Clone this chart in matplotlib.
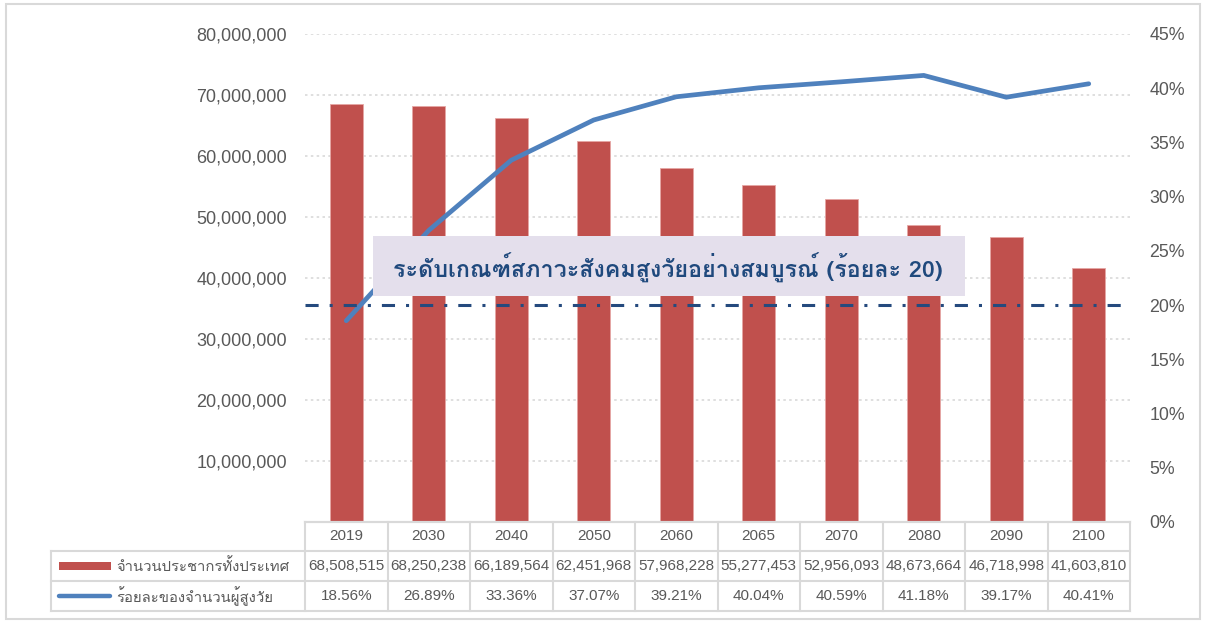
import matplotlib
matplotlib.use("Agg")
import matplotlib.pyplot as plt
from matplotlib import font_manager
from matplotlib.ft2font import FT2Font
from matplotlib.patches import Rectangle
from matplotlib.lines import Line2D
import matplotlib.transforms as mtransforms

# ---------------- data ----------------
years = ["2019", "2030", "2040", "2050", "2060", "2065", "2070", "2080", "2090", "2100"]
population = [68508515, 68250238, 66189564, 62451968, 57968228,
              55277453, 52956093, 48673664, 46718998, 41603810]
elderly_pct = [18.56, 26.89, 33.36, 37.07, 39.21, 40.04, 40.59, 41.18, 39.17, 40.41]
threshold_pct = 20
pop_label = "จำนวนประชากรทั้งประเทศ"
pct_label = "ร้อยละของจำนวนผู้สูงวัย"
threshold_label = "ระดับเกณฑ์สภาวะสังคมสูงวัยอย่างสมบูรณ์ (ร้อยละ 20)"
left_ticks = list(range(0, 80000001, 10000000))
right_ticks = list(range(0, 46, 5))

# ---------------- fonts ----------------
thai_family = None
for f in font_manager.fontManager.ttflist:
    try:
        if 0x0E01 in FT2Font(f.fname).get_charmap():
            thai_family = f.name
            break
    except Exception:
        pass

names = {f.name for f in font_manager.fontManager.ttflist}
if "Liberation Sans Narrow" in names:
    num_family = "Liberation Sans Narrow"
    tick_fs_l, tick_fs_r, tab_fs = 15.3, 15.0, 13.0
else:
    num_family = "Liberation Sans"
    tick_fs_l, tick_fs_r, tab_fs = 13.0, 12.8, 11.0
thai_fam_list = ([thai_family] if thai_family else []) + [num_family, "DejaVu Sans"]

W, H = 1206, 622
fig = plt.figure(figsize=(W / 100, H / 100), dpi=100)
fig.patch.set_facecolor("white")

def fx(px):
    return px / W

def fy(py):
    return 1 - py / H

# outer border
fig.patches.append(Rectangle((fx(6), fy(619)), fx(1200) - fx(6), fy(4) - fy(619),
                             transform=fig.transFigure, fill=False,
                             edgecolor="#D9D9D9", linewidth=1.5))

ax_l, ax_r, ax_t, ax_b = 305, 1130, 34, 522
ax = fig.add_axes([fx(ax_l), fy(ax_b), fx(ax_r) - fx(ax_l), fy(ax_t) - fy(ax_b)])
ax2 = ax.twinx()

x = list(range(len(years)))
ax.bar(x, population, width=0.4, color="#C0504D", edgecolor="#E6A6A4", linewidth=0.6, zorder=2)
ax.set_ylim(0, 80000000)
ax.set_xlim(-0.5, len(years) - 0.5)
ax.set_yticks(left_ticks)
ax.set_yticklabels(["" if v == 0 else f"{v:,}" for v in left_ticks])
ax.yaxis.grid(True, color="#D9D9D9", linestyle=(0, (1.5, 2)), linewidth=1.2, zorder=0)
ax.set_axisbelow(True)
ax.set_xticks([])
for s in ["top", "left", "right"]:
    ax.spines[s].set_visible(False)
ax.spines["bottom"].set_color("#D9D9D9")
ax.spines["bottom"].set_linewidth(1.5)
ax.tick_params(axis="y", length=0, pad=13, labelsize=tick_fs_l, labelcolor="#595959")
for t in ax.get_yticklabels():
    t.set_fontfamily(num_family)

ax2.plot(x, elderly_pct, color="#4F81BD", linewidth=3.4, solid_capstyle="round",
         solid_joinstyle="miter", zorder=5)
ax2.axhline(threshold_pct, color="#254A7E", linewidth=2.2,
            linestyle=(0, (4.3, 3.6, 1.0, 3.6)), zorder=6)
ax2.set_ylim(0, 45)
ax2.set_yticks(right_ticks)
ax2.set_yticklabels([f"{v}%" for v in right_ticks])
for s in ["top", "left", "right", "bottom"]:
    ax2.spines[s].set_visible(False)
ax2.tick_params(axis="y", length=0, pad=14, labelsize=tick_fs_r, labelcolor="#595959")
for t in ax2.get_yticklabels():
    t.set_fontfamily(num_family)

# annotation box
fig.patches.append(Rectangle((fx(373), fy(296)), fx(965) - fx(373), fy(236) - fy(296),
                             transform=fig.transFigure, facecolor="#E4DFEC",
                             edgecolor="none", zorder=10))
fig.text(fx(668), fy(268), threshold_label, ha="center", va="center",
         fontsize=16.8, fontweight="bold", color="#1F497D", family=thai_fam_list, zorder=11)

# ---------------- data table ----------------
grid_c = "#D9D9D9"
trans = mtransforms.blended_transform_factory(ax.transData, fig.transFigure)
rows_y = [522, 551, 581, 611]
lab_l = 51
fig.add_artist(Line2D([fx(ax_l), fx(ax_r)], [fy(rows_y[0])] * 2, color=grid_c, lw=1.5,
                      transform=fig.transFigure))
for yy in rows_y[1:]:
    fig.add_artist(Line2D([fx(lab_l), fx(ax_r)], [fy(yy)] * 2, color=grid_c, lw=1.5,
                          transform=fig.transFigure))
for i in range(len(years) + 1):
    fig.add_artist(Line2D([i - 0.5, i - 0.5], [fy(rows_y[0]), fy(rows_y[3])], color=grid_c,
                          lw=1.5, transform=trans))
fig.add_artist(Line2D([fx(lab_l)] * 2, [fy(rows_y[1]), fy(rows_y[3])], color=grid_c, lw=1.5,
                      transform=fig.transFigure))

row_c = [(rows_y[k] + rows_y[k + 1]) / 2 for k in range(3)]
for i, yr in enumerate(years):
    fig.text(i, fy(row_c[0]), yr, transform=trans, ha="center", va="center",
             fontsize=tab_fs, color="#595959", family=num_family)
    fig.text(i, fy(row_c[1]), f"{population[i]:,}", transform=trans, ha="center", va="center",
             fontsize=tab_fs, color="#595959", family=num_family)
    fig.text(i, fy(row_c[2]), f"{elderly_pct[i]:.2f}%", transform=trans, ha="center",
             va="center", fontsize=tab_fs, color="#595959", family=num_family)

# legend keys
fig.patches.append(Rectangle((fx(59), fy(569.5)), fx(111) - fx(59), fy(561.5) - fy(569.5),
                             transform=fig.transFigure, facecolor="#C0504D", edgecolor="none"))
fig.add_artist(Line2D([fx(59), fx(110)], [fy(row_c[2])] * 2, color="#4F81BD", lw=3.2,
                      solid_capstyle="round", transform=fig.transFigure))
fig.text(fx(116), fy(row_c[1]), pop_label, ha="left", va="center", fontsize=10.7,
         color="#595959", family=thai_fam_list)
fig.text(fx(116), fy(row_c[2]), pct_label, ha="left", va="center", fontsize=10.7,
         color="#595959", family=thai_fam_list)

fig.savefig("out.png", dpi=100, facecolor="white")
